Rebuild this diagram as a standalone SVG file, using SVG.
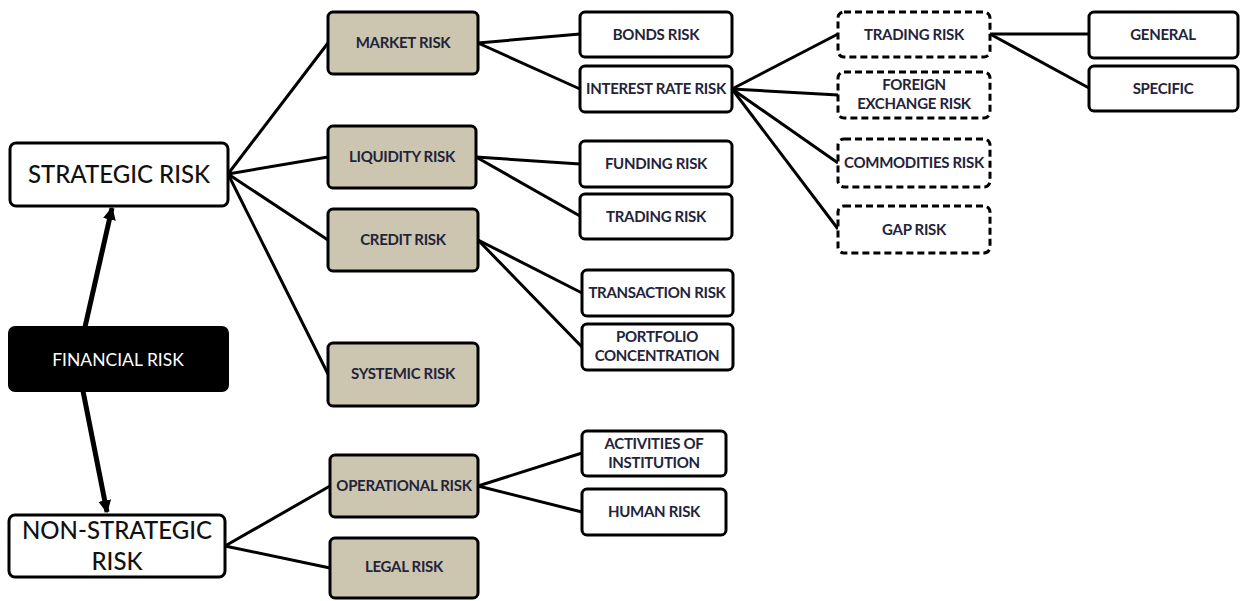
<svg xmlns="http://www.w3.org/2000/svg" width="1240" height="601" viewBox="0 0 1240 601">
<style>
.box{fill:#fff;stroke:#000;stroke-width:3}
.tan{fill:#ccc6b0;stroke:#000;stroke-width:3}
.dash{fill:#fff;stroke:#000;stroke-width:3;stroke-dasharray:7 4}
.blk{fill:#000;stroke:#000;stroke-width:2}
.t{font-family:Lato,"Open Sans",sans-serif;font-size:15px;font-weight:700;fill:#23233a;text-anchor:middle;letter-spacing:-0.3px}
.big{font-family:Lato,"Open Sans",sans-serif;font-size:24px;font-weight:500;fill:#111;text-anchor:middle}
.w{font-family:Lato,"Open Sans",sans-serif;font-size:17.5px;fill:#fff;text-anchor:middle}
.c line{stroke:#000;stroke-width:3}
</style>
<defs>
<marker id="ah" viewBox="0 0 10 10" refX="9" refY="5" markerWidth="2.6" markerHeight="2.6" orient="auto"><path d="M0,0 L10,5 L0,10 z" fill="#000"/></marker>
</defs>
<g class="c" id="connectors">
<line x1="228" y1="174" x2="328" y2="43"/>
<line x1="228" y1="174" x2="328" y2="157"/>
<line x1="228" y1="174" x2="328" y2="240"/>
<line x1="228" y1="174" x2="328" y2="374"/>
<line x1="478" y1="43" x2="580" y2="34"/>
<line x1="478" y1="43" x2="580" y2="89"/>
<line x1="476" y1="157" x2="580" y2="164"/>
<line x1="476" y1="157" x2="580" y2="216"/>
<line x1="478" y1="240" x2="582" y2="293"/>
<line x1="478" y1="240" x2="582" y2="347"/>
<line x1="732" y1="89" x2="838" y2="34"/>
<line x1="732" y1="89" x2="838" y2="95"/>
<line x1="732" y1="89" x2="838" y2="163"/>
<line x1="732" y1="89" x2="838" y2="229"/>
<line x1="990" y1="34" x2="1089" y2="34"/>
<line x1="990" y1="34" x2="1089" y2="88"/>
<line x1="225" y1="546" x2="330" y2="486"/>
<line x1="225" y1="546" x2="330" y2="568"/>
<line x1="478" y1="486" x2="582" y2="453"/>
<line x1="478" y1="486" x2="582" y2="512"/>
<line x1="85" y1="327" x2="112" y2="208" style="stroke-width:5" marker-end="url(#ah)"/>
<line x1="83" y1="391" x2="107" y2="512" style="stroke-width:5" marker-end="url(#ah)"/>
</g>
<g id="strategic"><rect class="box" x="10" y="143" width="218" height="63" rx="6"/><text class="big" x="119" y="183">STRATEGIC RISK</text></g>
<g id="financial"><rect class="blk" x="9" y="327" width="219" height="64" rx="6"/><text class="w" x="118" y="366">FINANCIAL  RISK</text></g>
<g id="nonstrategic"><rect class="box" x="9" y="515" width="216" height="62" rx="6"/><text class="big" x="117" y="539">NON-STRATEGIC</text><text class="big" x="117" y="570">RISK</text></g>
<g id="market"><rect class="tan" x="328" y="12" width="150" height="62" rx="5"/><text class="t" x="403" y="48">MARKET RISK</text></g>
<g id="liquidity"><rect class="tan" x="328" y="126" width="148" height="62" rx="5"/><text class="t" x="402" y="162">LIQUIDITY RISK</text></g>
<g id="credit"><rect class="tan" x="328" y="209" width="150" height="62" rx="5"/><text class="t" x="403" y="245">CREDIT RISK</text></g>
<g id="systemic"><rect class="tan" x="328" y="343" width="150" height="63" rx="5"/><text class="t" x="403" y="379">SYSTEMIC RISK</text></g>
<g id="operational"><rect class="tan" x="330" y="455" width="148" height="62" rx="5"/><text class="t" x="404" y="491">OPERATIONAL RISK</text></g>
<g id="legal"><rect class="tan" x="330" y="538" width="148" height="60" rx="5"/><text class="t" x="404" y="572">LEGAL RISK</text></g>
<g id="bonds"><rect class="box" x="580" y="12" width="152" height="45" rx="5"/><text class="t" x="656" y="40">BONDS RISK</text></g>
<g id="interest"><rect class="box" x="580" y="66" width="152" height="46" rx="5"/><text class="t" x="656" y="94">INTEREST RATE RISK</text></g>
<g id="funding"><rect class="box" x="580" y="141" width="152" height="46" rx="5"/><text class="t" x="656" y="169">FUNDING RISK</text></g>
<g id="trading1"><rect class="box" x="580" y="194" width="152" height="45" rx="5"/><text class="t" x="656" y="222">TRADING RISK</text></g>
<g id="transaction"><rect class="box" x="582" y="270" width="151" height="46" rx="5"/><text class="t" x="657" y="298">TRANSACTION RISK</text></g>
<g id="portfolio"><rect class="box" x="582" y="324" width="151" height="46" rx="5"/><text class="t" x="657" y="342">PORTFOLIO</text><text class="t" x="657" y="361">CONCENTRATION</text></g>
<g id="activities"><rect class="box" x="582" y="431" width="144" height="45" rx="5"/><text class="t" x="654" y="449">ACTIVITIES OF</text><text class="t" x="654" y="468">INSTITUTION</text></g>
<g id="human"><rect class="box" x="582" y="489" width="144" height="46" rx="5"/><text class="t" x="654" y="517">HUMAN RISK</text></g>
<g id="trading2"><rect class="dash" x="838" y="12" width="152" height="45" rx="6"/><text class="t" x="914" y="40">TRADING RISK</text></g>
<g id="foreign"><rect class="dash" x="838" y="72" width="152" height="46" rx="6"/><text class="t" x="914" y="90">FOREIGN</text><text class="t" x="914" y="109">EXCHANGE RISK</text></g>
<g id="commodities"><rect class="dash" x="838" y="139" width="152" height="48" rx="6"/><text class="t" x="914" y="168">COMMODITIES RISK</text></g>
<g id="gap"><rect class="dash" x="838" y="206" width="152" height="47" rx="6"/><text class="t" x="914" y="235">GAP RISK</text></g>
<g id="general"><rect class="box" x="1089" y="12" width="149" height="46" rx="5"/><text class="t" x="1163" y="40">GENERAL</text></g>
<g id="specific"><rect class="box" x="1089" y="66" width="149" height="45" rx="5"/><text class="t" x="1163" y="94">SPECIFIC</text></g>
</svg>
